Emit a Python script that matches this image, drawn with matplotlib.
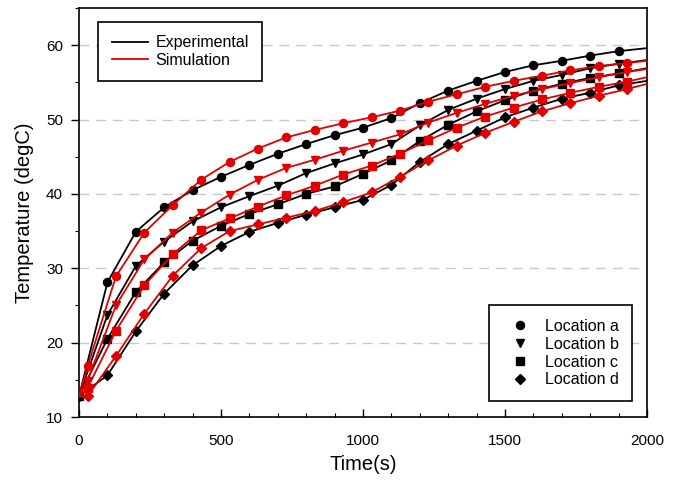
import matplotlib
matplotlib.use("Agg")
import matplotlib.pyplot as plt
from matplotlib.lines import Line2D

plt.rcParams['font.family'] = ['Liberation Sans', 'DejaVu Sans']

# Experimental time points (markers every 100 s, line ends at 2000 s)
t_exp = [0, 100, 200, 300, 400, 500, 600, 700, 800, 900, 1000,
         1100, 1200, 1300, 1400, 1500, 1600, 1700, 1800, 1900, 2000]
# Simulation time points (markers offset by ~30 s)
t_sim = [0, 30, 130, 230, 330, 430, 530, 630, 730, 830, 930, 1030,
         1130, 1230, 1330, 1430, 1530, 1630, 1730, 1830, 1930, 2000]

exp_a = [12.8, 28.1, 34.9, 38.2, 40.5, 42.3, 43.9, 45.4, 46.7, 47.9, 48.9,
         50.2, 52.2, 53.9, 55.2, 56.4, 57.3, 57.9, 58.6, 59.2, 59.6]
exp_b = [12.8, 23.7, 30.3, 33.6, 36.3, 38.2, 39.7, 41.1, 42.8, 44.1, 45.3,
         46.7, 49.2, 51.3, 52.8, 54.1, 55.2, 56.0, 56.9, 57.5, 58.0]
exp_c = [12.8, 20.5, 26.8, 30.8, 33.7, 35.7, 37.3, 38.6, 40.0, 41.0, 42.7,
         44.5, 47.1, 49.3, 51.1, 52.6, 53.9, 54.8, 55.6, 56.2, 56.9]
exp_d = [12.8, 15.6, 21.5, 26.6, 30.4, 33.0, 34.9, 36.1, 37.2, 38.2, 39.2,
         41.2, 44.3, 46.7, 48.5, 50.3, 51.6, 52.8, 53.6, 54.6, 55.2]

sim_a = [12.8, 16.8, 28.9, 34.8, 38.5, 41.9, 44.3, 46.1, 47.6, 48.6, 49.5, 50.3,
         51.2, 52.4, 53.4, 54.4, 55.2, 55.9, 56.6, 57.2, 57.6, 57.9]
sim_b = [12.8, 14.9, 25.0, 31.2, 34.8, 37.5, 39.9, 41.9, 43.5, 44.6, 45.8, 46.9,
         48.0, 49.6, 50.9, 52.1, 53.2, 54.1, 54.9, 55.7, 56.4, 56.8]
sim_c = [12.8, 13.9, 21.6, 27.7, 31.9, 35.1, 36.7, 38.3, 39.8, 41.1, 42.6, 43.8,
         45.4, 47.2, 48.9, 50.4, 51.6, 52.7, 53.6, 54.4, 55.1, 55.7]
sim_d = [12.8, 12.8, 18.2, 23.9, 29.0, 32.7, 35.0, 35.9, 36.8, 37.7, 38.9, 40.2,
         42.3, 44.5, 46.5, 48.2, 49.7, 51.1, 52.2, 53.2, 54.1, 54.8]

markers = ['o', 'v', 's', 'D']
msizes = [5.8, 5.8, 5.2, 5.2]
exp_series = [exp_a, exp_b, exp_c, exp_d]
sim_series = [sim_a, sim_b, sim_c, sim_d]
loc_labels = ['Location a', 'Location b', 'Location c', 'Location d']

red = '#e00000'

fig = plt.figure(figsize=(6.82, 4.86), dpi=100)
ax = fig.add_axes([79 / 682, 1 - 417 / 486, 568 / 682, 409 / 486])

for ys, m, ms in zip(exp_series, markers, msizes):
    ax.plot(t_exp, ys, color='black', lw=1.3, marker=m, ms=ms,
            markevery=slice(0, 20), zorder=3)
for ys, m, ms in zip(sim_series, markers, msizes):
    ax.plot(t_sim, ys, color=red, lw=1.3, marker=m, ms=ms,
            markevery=slice(1, 21), zorder=4)

ax.set_xlim(0, 2000)
ax.set_ylim(10, 65)
ax.set_xticks([0, 500, 1000, 1500, 2000])
ax.set_xticks(range(0, 2001, 100), minor=True)
ax.set_yticks([10, 20, 30, 40, 50, 60])
ax.set_yticks(range(10, 66, 5), minor=True)
ax.tick_params(axis='x', which='both', direction='in')
ax.tick_params(axis='y', which='both', direction='out')
ax.tick_params(which='major', length=5.5, width=1, labelsize=11)
ax.tick_params(which='minor', length=3, width=0.8)
ax.tick_params(axis='x', which='major', pad=12)
ax.tick_params(axis='y', which='major', pad=6)
for y in [20, 30, 40, 50, 60]:
    ax.axhline(y, color='#c8c8c8', lw=1.0, ls=(0, (7, 5)), zorder=1)
for s in ax.spines.values():
    s.set_linewidth(1.2)

ax.set_xlabel('Time(s)', fontsize=14.5, labelpad=5)
ax.set_ylabel('Temperature (degC)', fontsize=14.5, labelpad=9)

h1 = [Line2D([], [], color='black', lw=1.3), Line2D([], [], color=red, lw=1.3)]
leg1 = ax.legend(h1, ['Experimental', 'Simulation'], loc='upper left',
                 bbox_to_anchor=(0.0335, 0.966), borderaxespad=0,
                 fontsize=11.5, fancybox=False,
                 edgecolor='black', framealpha=1, handlelength=2.3,
                 borderpad=0.85, labelspacing=0.15, handletextpad=0.45)
leg1.get_frame().set_linewidth(1.2)
ax.add_artist(leg1)

h2 = [Line2D([], [], color='black', ls='none', marker=m, ms=ms)
      for m, ms in zip(markers, msizes)]
leg2 = ax.legend(h2, loc_labels, loc='lower right',
                 bbox_to_anchor=(0.9736, 0.039), borderaxespad=0,
                 fontsize=11.5, fancybox=False,
                 edgecolor='black', framealpha=1, handlelength=2.2,
                 borderpad=0.85, labelspacing=0.18, handletextpad=0.45)
leg2.get_frame().set_linewidth(1.2)

fig.savefig('out.png', dpi=100)
